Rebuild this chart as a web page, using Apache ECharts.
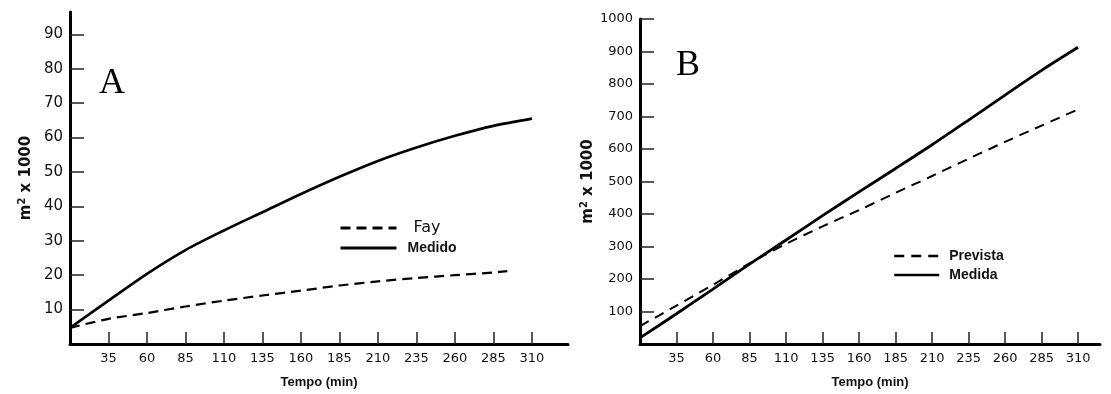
<!DOCTYPE html>
<html>
<head>
<meta charset="utf-8">
<script src="https://cdn.jsdelivr.net/npm/echarts@6/dist/echarts.min.js"></script>
<style>
html,body{margin:0;padding:0;background:#fff;}
#chart{width:1111px;height:394px;}
</style>
</head>
<body>
<div id="chart"></div>
<script>
// ---- data ----
const tickLabelsX = [35, 60, 85, 110, 135, 160, 185, 210, 235, 260, 285, 310];
const tickLabelsYA = [10, 20, 30, 40, 50, 60, 70, 80, 90];
const tickLabelsYB = [100, 200, 300, 400, 500, 600, 700, 800, 900, 1000];

const timesA = [10, 35, 60, 85, 110, 135, 160, 185, 210, 235, 260, 285, 310];
const medidoA = [4.7, 12.6, 20.4, 27.3, 33.0, 38.3, 43.6, 48.6, 53.2, 57.1, 60.5, 63.4, 65.5];
const timesFay = [10, 35, 60, 85, 110, 135, 160, 185, 210, 235, 260, 285, 294];
const fayA = [4.7, 7.3, 9.0, 10.9, 12.6, 14.1, 15.5, 17.0, 18.2, 19.2, 20.0, 20.8, 21.2];

const timesB = [10, 35, 60, 85, 110, 135, 160, 185, 210, 235, 260, 285, 310];
const medidaB = [19, 93, 169, 246, 320, 395, 468, 540, 613, 689, 766, 842, 913];
const previstaB = [55, 118, 182, 248, 308, 362, 412, 465, 517, 570, 622, 672, 722];

const pairs = (xs, ys) => xs.map((x, i) => [x, ys[i]]);

const labelFont = 'DejaVu Sans';
const nameFont = 'Liberation Sans';

function xAxisDef(gridIndex, max) {
  return {
    type: 'value', gridIndex, min: 10, max,
    name: 'Tempo (min)', nameLocation: 'middle', nameGap: 32,
    nameTextStyle: {fontFamily: nameFont, fontWeight: 'bold', fontSize: 13, color: '#111'},
    axisLine: {show: true, onZero: false, lineStyle: {color: '#000', width: 3}},
    axisTick: {show: true, inside: true, length: 12, customValues: tickLabelsX, lineStyle: {color: '#222', width: 1.5}},
    axisLabel: {customValues: tickLabelsX, margin: 8, fontFamily: labelFont, fontSize: 13, color: '#111',
      formatter: v => String(v)},
    splitLine: {show: false}
  };
}
function yAxisDef(gridIndex, max, ticks, gap, fs) {
  return {
    type: 'value', gridIndex, min: 0, max,
    name: 'm{s|2} x 1000', nameLocation: 'middle', nameGap: gap, nameRotate: 90,
    nameTextStyle: {fontFamily: labelFont, fontWeight: 'bold', fontSize: 15, color: '#111',
      rich: {s: {fontFamily: labelFont, fontWeight: 'bold', fontSize: 10, verticalAlign: 'top', padding: [0, 0, 8, 0]}}},
    axisLine: {show: true, onZero: false, lineStyle: {color: '#000', width: 3}},
    axisTick: {show: true, inside: true, length: 14, customValues: ticks, lineStyle: {color: '#222', width: 1.5}},
    axisLabel: {customValues: ticks, margin: 7, fontFamily: labelFont, fontSize: fs, color: '#111',
      formatter: v => String(v)},
    splitLine: {show: false}
  };
}

const chart = echarts.init(document.getElementById('chart'), null, {renderer: 'canvas'});
chart.setOption({
  backgroundColor: '#fff',
  animation: false,
  grid: [
    {left: 70, top: 12, width: 498, height: 336},
    {left: 640, top: 19, width: 460, height: 334}
  ],
  xAxis: [xAxisDef(0, 333.4), xAxisDef(1, 325)],
  yAxis: [yAxisDef(0, 96.5, tickLabelsYA, 35, 15), yAxisDef(1, 1000, tickLabelsYB, 36, 13)],
  legend: [
    {
      orient: 'vertical', left: 334, top: 215, itemWidth: 56, itemHeight: 12, itemGap: 5,
      itemStyle: {opacity: 0, borderWidth: 0},
      lineStyle: {width: 3},
      textStyle: {color: '#111'},
      data: [
        {name: 'Fay', textStyle: {fontFamily: labelFont, fontSize: 16, padding: [0, 0, 0, 12]}},
        {name: 'Medido', textStyle: {fontFamily: nameFont, fontWeight: 'bold', fontSize: 14, padding: [0, 0, 0, 6]}}
      ]
    },
    {
      orient: 'vertical', left: 888, top: 244, itemWidth: 45, itemHeight: 12, itemGap: 5,
      itemStyle: {opacity: 0, borderWidth: 0},
      lineStyle: {width: 2.5},
      textStyle: {color: '#111', fontFamily: nameFont, fontWeight: 'bold', fontSize: 14, padding: [0, 0, 0, 5]},
      data: ['Prevista', 'Medida']
    }
  ],
  graphic: [
    {type: 'text', left: 99, top: 66, style: {text: 'A', font: '36px "Liberation Serif"', fill: '#000'}},
    {type: 'text', left: 676, top: 48, style: {text: 'B', font: '36px "Liberation Serif"', fill: '#000'}}
  ],
  series: [
    {name: 'Fay', type: 'line', xAxisIndex: 0, yAxisIndex: 0, data: pairs(timesFay, fayA), smooth: 0.3,
      symbol: 'none', lineStyle: {color: '#000', width: 2.2, type: [10, 6]}, itemStyle: {color: '#000'}},
    {name: 'Medido', type: 'line', xAxisIndex: 0, yAxisIndex: 0, data: pairs(timesA, medidoA), smooth: 0.3,
      symbol: 'none', lineStyle: {color: '#000', width: 2.6}, itemStyle: {color: '#000'}},
    {name: 'Prevista', type: 'line', xAxisIndex: 1, yAxisIndex: 1, data: pairs(timesB, previstaB), smooth: 0.3,
      symbol: 'none', lineStyle: {color: '#000', width: 2, type: [10, 7]}, itemStyle: {color: '#000'}},
    {name: 'Medida', type: 'line', xAxisIndex: 1, yAxisIndex: 1, data: pairs(timesB, medidaB), smooth: 0.3,
      symbol: 'none', lineStyle: {color: '#000', width: 2.8}, itemStyle: {color: '#000'}}
  ]
});
</script>
</body>
</html>
